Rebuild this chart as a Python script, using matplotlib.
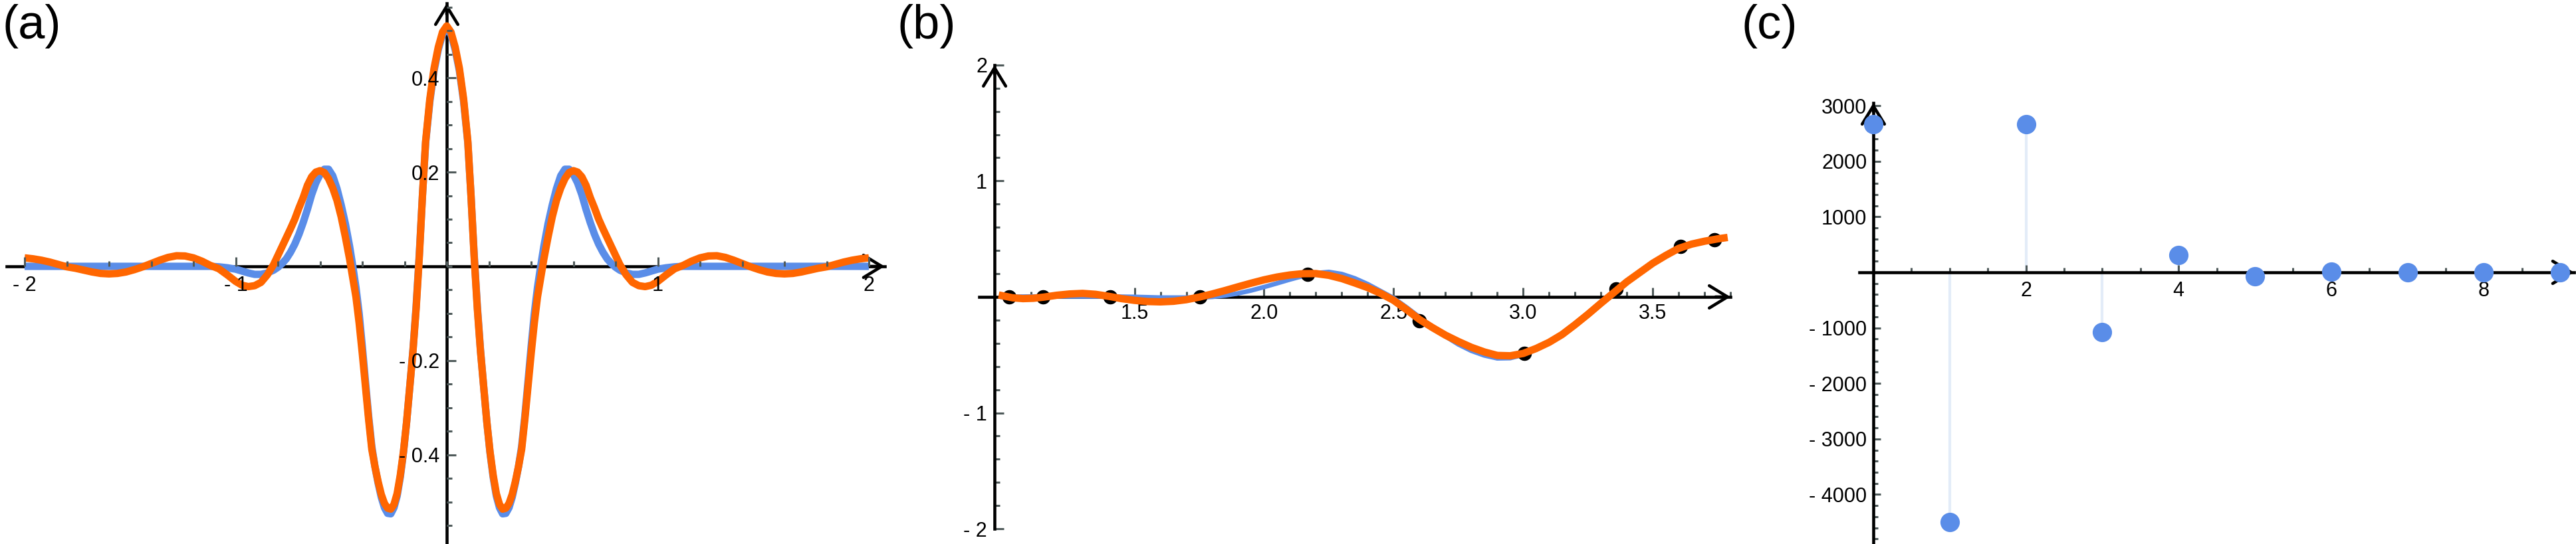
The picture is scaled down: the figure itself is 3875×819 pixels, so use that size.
import numpy as np
import matplotlib
matplotlib.use("Agg")
import matplotlib.pyplot as plt
from matplotlib.ticker import FixedLocator, FixedFormatter, NullFormatter

plt.rcParams["font.family"] = ["Liberation Sans", "DejaVu Sans"]

BLUE = "#5a8de8"
ORANGE = "#ff6600"
TICK = "#4f5a5a"
STEM = "#e3ecf8"

# ---- (a) values for x >= 0, the curves are symmetric ----
a_x_half = [0.00, 0.02, 0.04, 0.06, 0.08, 0.10, 0.115, 0.13, 0.145, 0.16, 0.175, 0.19,
            0.205, 0.22, 0.235, 0.25, 0.265, 0.28, 0.295, 0.31, 0.325, 0.34, 0.355,
            0.37, 0.385, 0.40, 0.415, 0.43, 0.445, 0.46, 0.48, 0.50, 0.52, 0.54, 0.56,
            0.58, 0.60, 0.62, 0.64, 0.66, 0.68, 0.70, 0.72, 0.74, 0.76, 0.78, 0.80,
            0.82, 0.85, 0.88, 0.91, 0.94, 0.97, 1.00, 1.04, 1.08, 1.12, 1.16, 1.20,
            1.24, 1.28, 1.32, 1.36, 1.40, 1.44, 1.48, 1.52, 1.56, 1.60, 1.64, 1.68,
            1.72, 1.76, 1.80, 1.84, 1.88, 1.92, 1.96, 2.00]
a_exact_half = [0.505, 0.492, 0.460, 0.415, 0.350, 0.262, 0.150, 0.025, -0.085, -0.178,
                -0.255, -0.330, -0.395, -0.447, -0.487, -0.512, -0.525, -0.524, -0.512,
                -0.490, -0.460, -0.425, -0.382, -0.318, -0.245, -0.170, -0.100, -0.045,
                0.000, 0.042, 0.090, 0.130, 0.165, 0.192, 0.206, 0.206, 0.195, 0.177,
                0.152, 0.121, 0.093, 0.068, 0.047, 0.030, 0.016, 0.006, -0.002, -0.008,
                -0.014, -0.017, -0.017, -0.014, -0.010, -0.006, -0.003, -0.001, 0.0,
                0.0, 0.0, 0.0, 0.0, 0.0, 0.0, 0.0, 0.0, 0.0, 0.0, 0.0, 0.0, 0.0, 0.0,
                0.0, 0.0, 0.0, 0.0, 0.0, 0.0, 0.0, 0.0]
a_approx_half = [0.510, 0.497, 0.465, 0.420, 0.355, 0.265, 0.150, 0.020, -0.090, -0.180,
                 -0.255, -0.330, -0.393, -0.443, -0.482, -0.505, -0.515, -0.513, -0.503,
                 -0.484, -0.457, -0.425, -0.388, -0.325, -0.255, -0.185, -0.120, -0.065,
                 -0.025, 0.015, 0.062, 0.105, 0.140, 0.166, 0.186, 0.199, 0.203, 0.200,
                 0.190, 0.172, 0.146, 0.124, 0.100, 0.080, 0.061, 0.042, 0.023, 0.004,
                 -0.018, -0.034, -0.041, -0.043, -0.040, -0.032, -0.018, -0.005, 0.002,
                 0.011, 0.018, 0.022, 0.0225, 0.019, 0.013, 0.006, -0.001, -0.007,
                 -0.012, -0.015, -0.016, -0.015, -0.012, -0.008, -0.004, -0.001, 0.004,
                 0.009, 0.013, 0.016, 0.018]
a_x = [-v for v in a_x_half[:0:-1]] + a_x_half
a_exact = a_exact_half[:0:-1] + a_exact_half
a_approx = a_approx_half[:0:-1] + a_approx_half
a_xticks = [-2, -1, 1, 2]
a_xlabels = ["- 2", "- 1", "1", "2"]
a_yticks = [-0.4, -0.2, 0.2, 0.4]
a_ylabels = ["- 0.4", "- 0.2", "0.2", "0.4"]

# ---- (b) ----
b_exact_x = [0.99, 1.10, 1.20, 1.30, 1.40, 1.50, 1.60, 1.70, 1.75, 1.80, 1.85, 1.90, 1.95,
             2.00, 2.05, 2.10, 2.15, 2.20, 2.25, 2.30, 2.35, 2.40, 2.45, 2.50, 2.55, 2.60,
             2.65, 2.70, 2.75, 2.80, 2.85, 2.90, 2.95, 3.00, 3.05, 3.10, 3.15, 3.20, 3.25,
             3.30, 3.35, 3.40, 3.45, 3.50, 3.55, 3.60, 3.65, 3.70, 3.75, 3.775]
b_exact = [0.0, 0.003, 0.004, 0.004, 0.003, 0.0, -0.006, -0.006, -0.005, 0.0, 0.012, 0.030,
           0.055, 0.085, 0.117, 0.150, 0.180, 0.205, 0.215, 0.197, 0.160, 0.110, 0.050,
           -0.010, -0.090, -0.175, -0.260, -0.340, -0.410, -0.465, -0.505, -0.530, -0.528,
           -0.500, -0.455, -0.395, -0.320, -0.232, -0.140, -0.045, 0.050, 0.140, 0.220,
           0.295, 0.360, 0.415, 0.455, 0.482, 0.500, 0.506]
b_approx_x = [0.99, 1.03, 1.07, 1.11, 1.15, 1.20, 1.25, 1.30, 1.35, 1.40, 1.45, 1.50, 1.55,
              1.60, 1.65, 1.70, 1.75, 1.80, 1.85, 1.90, 1.95, 2.00, 2.05, 2.10, 2.15, 2.20,
              2.25, 2.30, 2.35, 2.40, 2.45, 2.50, 2.55, 2.60, 2.65, 2.70, 2.75, 2.80, 2.85,
              2.90, 2.95, 3.00, 3.05, 3.10, 3.15, 3.20, 3.25, 3.30, 3.35, 3.40, 3.45, 3.50,
              3.55, 3.60, 3.65, 3.70, 3.75, 3.775]
b_approx = [0.010, -0.008, -0.015, -0.012, -0.002, 0.014, 0.025, 0.030, 0.022, 0.005, -0.015,
            -0.030, -0.040, -0.043, -0.038, -0.024, -0.002, 0.025, 0.055, 0.087, 0.118, 0.147,
            0.171, 0.189, 0.200, 0.201, 0.186, 0.158, 0.120, 0.080, 0.030, -0.030, -0.110,
            -0.195, -0.265, -0.330, -0.385, -0.435, -0.475, -0.505, -0.508, -0.488, -0.445,
            -0.392, -0.325, -0.240, -0.150, -0.055, 0.037, 0.130, 0.210, 0.290, 0.357,
            0.418, 0.455, 0.480, 0.500, 0.508]
b_nodes_x = [1.017, 1.148, 1.406, 1.752, 2.167, 2.599, 3.004, 3.358, 3.608, 3.739]
b_nodes_y = [0.0, 0.0, 0.0, 0.0, 0.193, -0.208, -0.485, 0.069, 0.437, 0.494]
b_xticks = [1.5, 2.0, 2.5, 3.0, 3.5]
b_xlabels = ["1.5", "2.0", "2.5", "3.0", "3.5"]
b_yticks = [-2, -1, 1, 2]
b_ylabels = ["- 2", "- 1", "1", "2"]

# ---- (c) ----
c_n = [0, 1, 2, 3, 4, 5, 6, 7, 8, 9]
c_coef = [2667, -4498, 2667, -1077, 311, -75, 8, 3, 1, 0]
c_xticks = [2, 4, 6, 8]
c_xlabels = ["2", "4", "6", "8"]
c_yticks = [-4000, -3000, -2000, -1000, 1000, 2000, 3000]
c_ylabels = ["- 4000", "- 3000", "- 2000", "- 1000", "1000", "2000", "3000"]

W, H = 3875, 819
fig = plt.figure(figsize=(W / 100, H / 100), dpi=100)


def make_axes(left_px, right_px, xlim, ylim):
    ax = fig.add_axes([left_px / W, 0, (right_px - left_px) / W, 1])
    ax.set_xlim(*xlim)
    ax.set_ylim(*ylim)
    ax.patch.set_alpha(0)
    return ax


def arrow_head(ax, tip, back):
    ax.annotate("", xy=tip, xytext=back,
                arrowprops=dict(arrowstyle="->,head_length=0.9,head_width=0.55",
                                lw=3.3, color="black", shrinkA=0, shrinkB=0,
                                mutation_scale=22),
                annotation_clip=False, zorder=2)


def style_axes(ax, y_axis_x, xb, yb, xmaj, xlab, xmin, ymaj, ylab, ymin,
               xpad, ypad, lens):
    for s in ("top", "right"):
        ax.spines[s].set_visible(False)
    ax.spines["left"].set_position(("data", y_axis_x))
    ax.spines["bottom"].set_position(("data", 0))
    for s in ("left", "bottom"):
        ax.spines[s].set_linewidth(3.3)
        ax.spines[s].set_color("black")
        ax.spines[s].set_zorder(2)
    ax.spines["bottom"].set_bounds(*xb)
    ax.spines["left"].set_bounds(*yb)
    ax.xaxis.set_major_locator(FixedLocator(xmaj))
    ax.xaxis.set_major_formatter(FixedFormatter(xlab))
    ax.xaxis.set_minor_locator(FixedLocator(xmin))
    ax.xaxis.set_minor_formatter(NullFormatter())
    ax.yaxis.set_major_locator(FixedLocator(ymaj))
    ax.yaxis.set_major_formatter(FixedFormatter(ylab))
    ax.yaxis.set_minor_locator(FixedLocator(ymin))
    ax.yaxis.set_minor_formatter(NullFormatter())
    ax.tick_params(which="both", direction="in", color=TICK, width=2.2,
                   labelsize=22, labelcolor="black")
    ax.tick_params(which="major", length=lens[0])
    ax.tick_params(which="minor", length=lens[1])
    ax.tick_params(axis="x", pad=xpad)
    ax.tick_params(axis="y", pad=ypad)
    span_x = (xb[1] - xb[0]) * 0.02
    span_y = (yb[1] - yb[0]) * 0.02
    arrow_head(ax, (xb[1], 0), (xb[1] - span_x, 0))
    arrow_head(ax, (y_axis_x, yb[1]), (y_axis_x, yb[1] - span_y))


# ---- panel (a) ----
sx = 317.5
ax_a = make_axes(0, 1345, (-672 / sx, (1345 - 672) / sx), (-0.589, 0.565))
ax_a.plot(a_x, a_exact, color=BLUE, lw=8, solid_capstyle="butt", zorder=3)
ax_a.plot(a_x, a_approx, color=ORANGE, lw=8, solid_capstyle="butt", zorder=3.2)
style_axes(ax_a, 0, (-2.085, 2.075), (-0.6, 0.558),
           a_xticks, a_xlabels, np.round(np.arange(-2.0, 2.01, 0.2), 2),
           a_yticks, a_ylabels, np.round(np.arange(-0.55, 0.56, 0.05), 2),
           10, 8, (10, 6))
ax_a.xaxis.set_zorder(3.5)
ax_a.yaxis.set_zorder(3.5)

# ---- panel (b) ----
sb = 389.8
ax_b = make_axes(1453.2, 2622.6, (0.85, 0.85 + (2622.6 - 1453.2) / sb), (-2.131, 2.560))
ax_b.plot(b_exact_x, b_exact, color=BLUE, lw=5, zorder=3)
ax_b.plot(b_nodes_x, b_nodes_y, "o", color="black", ms=14.5, zorder=3.1)
ax_b.plot(b_approx_x, b_approx, color=ORANGE, lw=8, zorder=3.2)
style_axes(ax_b, 0.96, (0.90, 3.80), (-2.0, 2.0),
           b_xticks, b_xlabels, np.round(np.arange(1.0, 3.81, 0.1), 2),
           b_yticks, b_ylabels, np.round(np.arange(-2.0, 2.01, 0.2), 2),
           7.5, 8, (10, 6))

# ---- panel (c) ----
sc = 114.8
ax_c = make_axes(2789.3, 3874.2, (-(2818 - 2789.3) / sc, (3874.2 - 2818) / sc),
                 (-4892, 4904))
ax_c.vlines(c_n, 0, c_coef, color=STEM, lw=3, zorder=1.5)
ax_c.plot(c_n, c_coef, "o", color=BLUE, ms=20, zorder=3)
style_axes(ax_c, 0, (-0.18, 9.18), (-4950, 3050),
           c_xticks, c_xlabels, np.arange(0.5, 9.01, 0.5),
           c_yticks, c_ylabels, np.arange(-4800, 3001, 200),
           9, 7, (8, 5))

# panel letters
for px, s in [(4, "(a)"), (1350, "(b)"), (2619, "(c)")]:
    fig.text(px / W, 1 - 6 / H, s, fontsize=52, ha="left", va="top")

fig.savefig("out.png", dpi=100)
